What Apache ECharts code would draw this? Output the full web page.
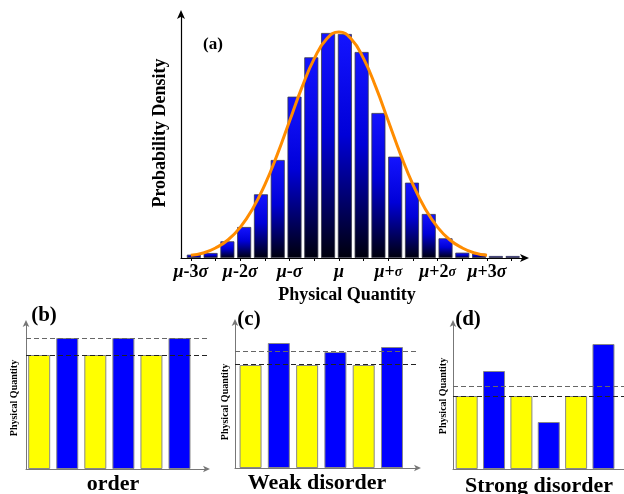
<!DOCTYPE html>
<html>
<head>
<meta charset="utf-8">
<script src="https://cdn.jsdelivr.net/npm/echarts@6/dist/echarts.min.js"></script>
<style>
  html, body { margin: 0; padding: 0; background: #fff; }
  #chart { width: 624px; height: 494px; }
</style>
</head>
<body>
<div id="chart"></div>
<script>
// (a) histograma: centros de cada barra (en unidades de sigma) y alturas
const binCenters = [-2.94, -2.6, -2.26, -1.92, -1.58, -1.24, -0.9, -0.56, -0.22, 0.12,
  0.46, 0.8, 1.14, 1.48, 1.82, 2.16, 2.5, 2.84, 3.18, 3.52];
const binHeights = [10, 15, 50, 93, 191, 294, 484, 602, 675, 672,
  618, 435, 304, 226, 132, 59, 16, 13, 6, 6];

// curva naranja
const curveX = [-3, -2.75, -2.5, -2.25, -2, -1.75, -1.5, -1.25, -1, -0.75, -0.5, -0.25, 0,
  0.25, 0.5, 0.75, 1, 1.25, 1.5, 1.75, 2, 2.25, 2.5, 2.75, 3];
const curveY = [8, 15, 30, 54, 92, 147, 220, 310, 411, 512, 598, 657, 678,
  657, 598, 512, 411, 310, 220, 147, 92, 54, 30, 15, 8];

const tickValues = [-3, -2, -1, 0, 1, 2, 3];
const tickLabels = ['{i|μ}-3{i|σ}', '{i|μ}-2{i|σ}', '{i|μ}-{i|σ}', '{i|μ}', '{i|μ}+{s|σ}', '{i|μ}+2{s|σ}', '{i|μ}+3{i|σ}'];

// (b)(c)(d): barras amarillas / azules alternadas
const slots = [0, 1, 2, 3, 4, 5];
const orderBars = [114, 131, 114, 131, 114, 131];
const weakBars = [103, 125, 103, 116, 103, 121];
const strongBars = [73, 98, 73, 47, 73, 125];
const orderRefs = [131, 114];
const weakRefs = [117, 104];
const strongRefs = [83, 73];

const serif = '"Liberation Serif", "DejaVu Serif", serif';
const chart = echarts.init(document.getElementById('chart'));

const blueGrad = new echarts.graphic.LinearGradient(0, 0, 0, 1, [
  { offset: 0, color: '#1414ff' },
  { offset: 0.45, color: '#0000d8' },
  { offset: 1, color: '#00000c' }
]);

function subX(idx, min, max, arrow) {
  return {
    type: 'value', gridIndex: idx, min: min, max: max,
    axisLine: { onZero: false, lineStyle: { color: '#777', width: 1 }, symbol: arrow ? ['none', 'arrow'] : 'none', symbolSize: [5, 7], symbolOffset: [0, 3] },
    axisTick: { show: false }, axisLabel: { show: false }, splitLine: { show: false }
  };
}
function subY(idx) {
  return {
    type: 'value', gridIndex: idx, min: 0, max: 146,
    axisLine: { show: true, onZero: false, lineStyle: { color: '#777', width: 1 }, symbol: ['none', 'arrow'], symbolSize: [5, 7], symbolOffset: [0, 3] },
    axisTick: { show: false }, axisLabel: { show: false }, splitLine: { show: false }
  };
}
function subSeries(idx, values, refs) {
  return {
    type: 'bar', xAxisIndex: idx, yAxisIndex: idx, barWidth: 22,
    data: values.map((v, i) => ({
      value: [slots[i], v],
      itemStyle: { color: i % 2 === 0 ? '#ffff00' : '#0000ff', borderColor: '#888', borderWidth: 1 }
    })),
    markLine: {
      silent: true, symbol: 'none', label: { show: false },
      data: [
        { yAxis: refs[0], lineStyle: { color: '#666', type: [5, 3], width: 1.2 } },
        { yAxis: refs[1], lineStyle: { color: '#222', type: [5, 3], width: 1.2 } }
      ]
    }
  };
}

function txt(x, y, text, size, rot) {
  return {
    type: 'text', x: x, y: y, rotation: rot || 0,
    style: { text: text, font: 'bold ' + size + 'px ' + serif, fill: '#000', align: 'center', verticalAlign: 'middle' }
  };
}

const option = {
  animation: false,
  backgroundColor: '#fff',
  grid: [
    { left: 181, top: 14, width: 344, height: 244 },
    { left: 26, top: 323, width: 181, height: 146 },
    { left: 235, top: 322, width: 183, height: 146 },
    { left: 453, top: 323, width: 175, height: 146 }
  ],
  xAxis: [
    {
      type: 'value', gridIndex: 0, min: -3.2, max: 3.77,
      axisLine: { onZero: false, lineStyle: { color: '#000', width: 1.2 }, symbol: ['none', 'arrow'], symbolSize: [6, 9], symbolOffset: [0, 4] },
      axisTick: { show: true, customValues: [-3, -2.5, -2, -1.5, -1, -0.5, 0, 0.5, 1, 1.5, 2, 2.5, 3, 3.5], length: 3, lineStyle: { color: '#000' } },
      axisLabel: {
        customValues: tickValues, margin: 5,
        formatter: v => tickLabels[tickValues.indexOf(v)],
        color: '#000', fontFamily: serif, fontSize: 18, fontWeight: 'bold',
        rich: {
          i: { fontStyle: 'italic', fontWeight: 'bold', fontFamily: serif, fontSize: 18, color: '#000' },
          s: { fontStyle: 'italic', fontWeight: 'bold', fontFamily: serif, fontSize: 14, color: '#000' }
        }
      },
      splitLine: { show: false }
    },
    subX(1, -0.47, 5.98, true),
    subX(2, -0.55, 5.92, true),
    subX(3, -0.5, 5.75, false)
  ],
  yAxis: [
    {
      type: 'value', gridIndex: 0, min: 0, max: 732,
      axisLine: { show: true, onZero: false, lineStyle: { color: '#000', width: 1.2 }, symbol: ['none', 'arrow'], symbolSize: [6, 9], symbolOffset: [0, 4] },
      axisTick: { show: false }, axisLabel: { show: false }, splitLine: { show: false }
    },
    subY(1), subY(2), subY(3)
  ],
  series: [
    {
      type: 'bar', xAxisIndex: 0, yAxisIndex: 0, barWidth: 14,
      data: binCenters.map((c, i) => [c, binHeights[i]]),
      itemStyle: { color: blueGrad, borderColor: '#3a3a4a', borderWidth: 0.8 }
    },
    {
      type: 'line', xAxisIndex: 0, yAxisIndex: 0, smooth: true, showSymbol: false,
      data: curveX.map((x, i) => [x, curveY[i]]),
      lineStyle: { color: '#ff8c00', width: 3 }, z: 5
    },
    subSeries(1, orderBars, orderRefs),
    subSeries(2, weakBars, weakRefs),
    subSeries(3, strongBars, strongRefs)
  ],
  graphic: [
    txt(213, 45, '(a)', 17),
    txt(160, 133, 'Probability Density', 18, Math.PI / 2),
    txt(347, 295, 'Physical Quantity', 18),
    txt(44, 316, '(b)', 21),
    txt(249, 320, '(c)', 21),
    txt(468, 320, '(d)', 21),
    txt(14, 398, 'Physical Quantity', 10, Math.PI / 2),
    txt(225, 402, 'Physical Quantity', 10, Math.PI / 2),
    txt(443, 396, 'Physical Quantity', 10, Math.PI / 2),
    txt(113, 484, 'order', 22),
    txt(317, 483, 'Weak disorder', 22),
    txt(539, 486, 'Strong disorder', 22)
  ]
};

chart.setOption(option);
window.addEventListener('resize', () => chart.resize());
</script>
</body>
</html>
